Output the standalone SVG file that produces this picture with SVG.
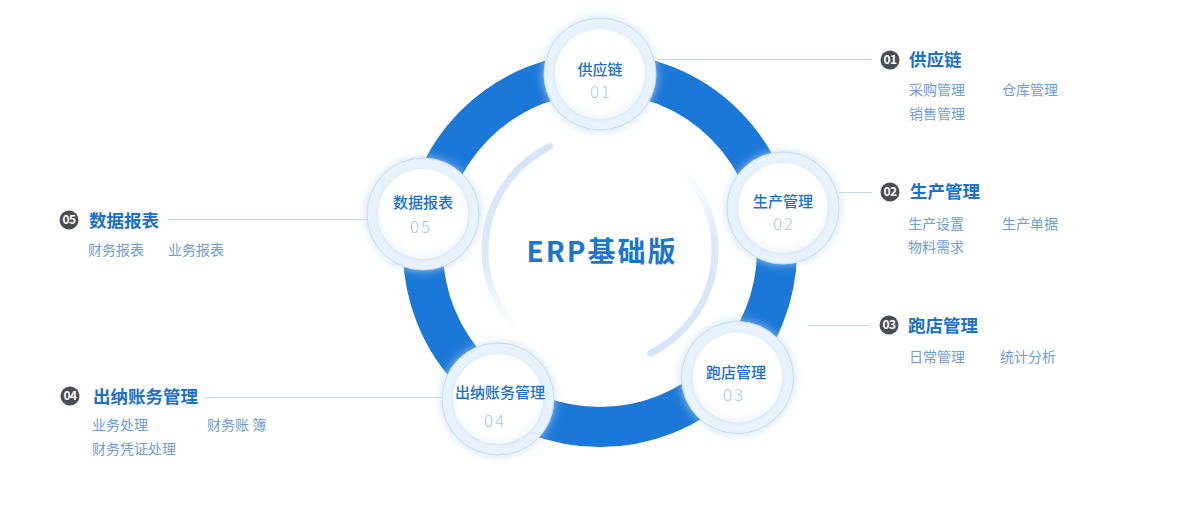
<svg xmlns="http://www.w3.org/2000/svg" width="1200" height="507" viewBox="0 0 1200 507">
<style>
  text { font-family: "Noto Sans CJK SC", "Noto Sans", sans-serif; }
  .ntitle { font-size: 15px; font-weight: 500; fill: #1b6fcf; text-anchor: middle; }
  .ndigit { font-size: 17px; font-weight: 300; fill: #a6c6ee; text-anchor: middle; letter-spacing: 2px; }
  .ltitle { font-size: 17.5px; font-weight: 700; fill: #1b6fcf; }
  .lsub { font-size: 14px; fill: #6e9ddb; }
  .badge { fill: #4a4d55; }
  .btext { font-size: 12px; font-weight: 700; fill: #ffffff; text-anchor: middle; letter-spacing: -0.5px; }
  .conn { stroke: #c5d9f0; stroke-width: 1; fill: none; }
  .outer { fill: #e8f2fc; stroke: #c6dcf4; stroke-width: 1; }
  .inner { fill: url(#innerGrad); }
</style>
<defs>
  <filter id="glow" x="-40%" y="-40%" width="180%" height="180%">
    <feDropShadow dx="0" dy="0" stdDeviation="5" flood-color="#bcd6f3" flood-opacity="0.8"/>
  </filter>
  <filter id="innerShadow" x="-20%" y="-20%" width="140%" height="140%">
    <feDropShadow dx="0" dy="1" stdDeviation="2" flood-color="#c9dcf1" flood-opacity="0.7"/>
  </filter>
  <radialGradient id="innerGrad" cx="50%" cy="45%" r="55%">
    <stop offset="0" stop-color="#ffffff"/>
    <stop offset="0.8" stop-color="#ffffff"/>
    <stop offset="1" stop-color="#f2f7fd"/>
  </radialGradient>
  <linearGradient id="arcL" gradientUnits="userSpaceOnUse" x1="0" y1="146" x2="0" y2="332">
    <stop offset="0" stop-color="#d3e5f7" stop-opacity="1"/>
    <stop offset="0.6" stop-color="#d3e5f7" stop-opacity="0.85"/>
    <stop offset="1" stop-color="#d3e5f7" stop-opacity="0"/>
  </linearGradient>
  <linearGradient id="arcR" gradientUnits="userSpaceOnUse" x1="0" y1="168" x2="0" y2="354">
    <stop offset="0" stop-color="#d3e5f7" stop-opacity="0"/>
    <stop offset="0.4" stop-color="#d3e5f7" stop-opacity="0.85"/>
    <stop offset="1" stop-color="#d3e5f7" stop-opacity="1"/>
  </linearGradient>
</defs>

<rect width="1200" height="507" fill="#ffffff"/>

<g id="ring">
  <circle cx="600" cy="250" r="177" fill="none" stroke="#1b78d8" stroke-width="40"/>
  <path d="M 549.6 146.6 A 115 115 0 0 0 518.7 331.3" fill="none" stroke="url(#arcL)" stroke-width="7" stroke-linecap="round"/>
  <path d="M 681.3 168.7 A 115 115 0 0 1 650.4 353.4" fill="none" stroke="url(#arcR)" stroke-width="7" stroke-linecap="round"/>
  <text x="602" y="262" font-size="28" font-weight="700" fill="#1a76d2" text-anchor="middle" letter-spacing="2">ERP基础版</text>
</g>

<g id="connectors">
  <line class="conn" x1="657" y1="59.5" x2="872" y2="59.5"/>
  <line class="conn" x1="839" y1="192.5" x2="872" y2="192.5"/>
  <line class="conn" x1="808" y1="325.5" x2="870" y2="325.5"/>
  <line class="conn" x1="168" y1="219.5" x2="368" y2="219.5"/>
  <line class="conn" x1="204" y1="397.5" x2="443" y2="397.5"/>
</g>

<g id="node1">
  <circle class="outer" cx="600" cy="74" r="56" filter="url(#glow)"/>
  <circle class="inner" cx="600" cy="74" r="45" filter="url(#innerShadow)"/>
  <text class="ntitle" x="600" y="75">供应链</text>
  <text class="ndigit" x="601" y="98">01</text>
</g>

<g id="node2">
  <circle class="outer" cx="783" cy="208" r="56" filter="url(#glow)"/>
  <circle class="inner" cx="783" cy="208" r="45" filter="url(#innerShadow)"/>
  <text class="ntitle" x="783" y="207">生产管理</text>
  <text class="ndigit" x="784" y="230">02</text>
</g>

<g id="node3">
  <circle class="outer" cx="737.5" cy="377.5" r="56" filter="url(#glow)"/>
  <circle class="inner" cx="737.5" cy="377.5" r="45" filter="url(#innerShadow)"/>
  <text class="ntitle" x="736" y="378">跑店管理</text>
  <text class="ndigit" x="734" y="401">03</text>
</g>

<g id="node4">
  <circle class="outer" cx="498" cy="399" r="56" filter="url(#glow)"/>
  <circle class="inner" cx="498" cy="399" r="45" filter="url(#innerShadow)"/>
  <text class="ntitle" x="500" y="398">出纳账务管理</text>
  <text class="ndigit" x="495" y="427">04</text>
</g>

<g id="node5">
  <circle class="outer" cx="423" cy="214" r="56" filter="url(#glow)"/>
  <circle class="inner" cx="423" cy="214" r="45" filter="url(#innerShadow)"/>
  <text class="ntitle" x="423" y="208">数据报表</text>
  <text class="ndigit" x="421" y="233">05</text>
</g>

<g id="label1">
  <circle class="badge" cx="890" cy="60" r="9.5"/>
  <text class="btext" x="890" y="64">01</text>
  <text class="ltitle" x="909" y="66">供应链</text>
  <text class="lsub" x="909" y="95">采购管理</text>
  <text class="lsub" x="1002" y="95">仓库管理</text>
  <text class="lsub" x="909" y="119">销售管理</text>
</g>

<g id="label2">
  <circle class="badge" cx="890" cy="192" r="9.5"/>
  <text class="btext" x="890" y="196">02</text>
  <text class="ltitle" x="910" y="198">生产管理</text>
  <text class="lsub" x="908" y="229">生产设置</text>
  <text class="lsub" x="1002" y="229">生产单据</text>
  <text class="lsub" x="908" y="252">物料需求</text>
</g>

<g id="label3">
  <circle class="badge" cx="889" cy="325" r="9.5"/>
  <text class="btext" x="889" y="329">03</text>
  <text class="ltitle" x="908" y="332">跑店管理</text>
  <text class="lsub" x="909" y="362">日常管理</text>
  <text class="lsub" x="1000" y="362">统计分析</text>
</g>

<g id="label4">
  <circle class="badge" cx="70" cy="396" r="9.5"/>
  <text class="btext" x="70" y="400">04</text>
  <text class="ltitle" x="93" y="403">出纳账务管理</text>
  <text class="lsub" x="92" y="430">业务处理</text>
  <text class="lsub" x="207" y="430">财务账 簿</text>
  <text class="lsub" x="92" y="454">财务凭证处理</text>
</g>

<g id="label5">
  <circle class="badge" cx="69" cy="220" r="9.5"/>
  <text class="btext" x="69" y="224">05</text>
  <text class="ltitle" x="89" y="227">数据报表</text>
  <text class="lsub" x="88" y="255">财务报表</text>
  <text class="lsub" x="168" y="255">业务报表</text>
</g>
</svg>
